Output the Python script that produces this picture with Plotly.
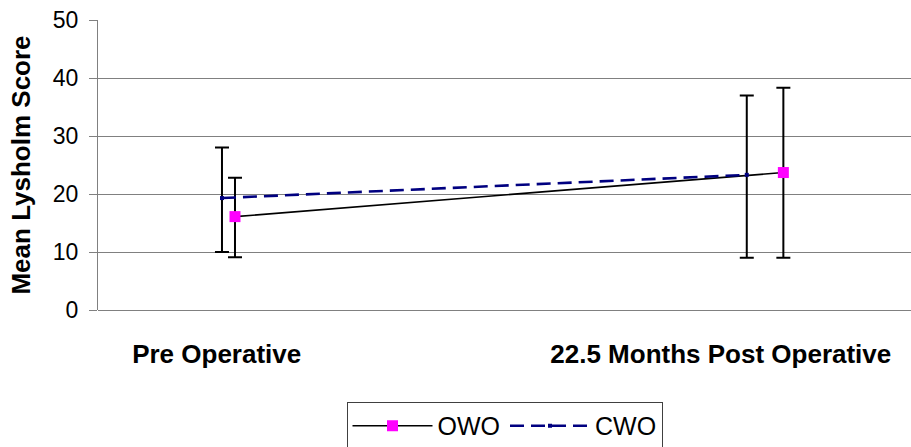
import plotly.graph_objects as go

# Data
categories = ["Pre Operative", "22.5 Months Post Operative"]
category_x = [14.6, 76.6]

owo_x = [16.85, 84.3]
owo_mean = [16.1, 23.7]
owo_err_plus = [6.7, 14.6]
owo_err_minus = [7.0, 14.7]

cwo_x = [15.25, 79.8]
cwo_mean = [19.3, 23.3]
cwo_err_plus = [8.7, 13.7]
cwo_err_minus = [9.3, 14.3]

FONT = "Arial, Liberation Sans, sans-serif"

fig = go.Figure()

fig.add_trace(go.Scatter(
    x=owo_x, y=owo_mean, name="OWO", mode="lines+markers",
    line=dict(color="black", width=1.6),
    marker=dict(symbol="square", size=11, color="#FF00FF"),
    error_y=dict(type="data", symmetric=False, array=owo_err_plus,
                 arrayminus=owo_err_minus, color="black", thickness=2, width=7),
))
fig.add_trace(go.Scatter(
    x=cwo_x, y=cwo_mean, name="CWO", mode="lines+markers",
    line=dict(color="#000080", width=2.6, dash="14px,7px"),
    marker=dict(symbol="square", size=4, color="#000080"),
    error_y=dict(type="data", symmetric=False, array=cwo_err_plus,
                 arrayminus=cwo_err_minus, color="black", thickness=2, width=7),
))

fig.update_layout(
    width=911, height=447,
    margin=dict(l=98, r=0, t=20, b=137, autoexpand=False),
    paper_bgcolor="white", plot_bgcolor="white",
    font=dict(family=FONT, color="black"),
    showlegend=True,
    legend=dict(
        orientation="h", x=0.5, xanchor="center", y=-0.317, yanchor="top",
        bordercolor="#404040", borderwidth=1,
        font=dict(family=FONT, size=25, color="black"),
        itemwidth=80,
    ),
    xaxis=dict(
        range=[0, 100], showgrid=False, zeroline=False, showline=False,
        tickvals=category_x, ticktext=categories, ticks="",
        tickfont=dict(family=FONT, size=26, color="black", weight="bold"),
        ticklabelstandoff=26,
    ),
    yaxis=dict(
        range=[0, 50], dtick=10, showgrid=True, gridcolor="#808080", gridwidth=1,
        zeroline=True, zerolinecolor="#808080", zerolinewidth=1,
        showline=True, linecolor="#808080", linewidth=1,
        ticks="outside", ticklen=8, tickcolor="#808080",
        tickfont=dict(family=FONT, size=23, color="black"),
        ticklabelstandoff=6, ticklabeloverflow="allow",
        title=dict(text="Mean Lysholm Score", standoff=14,
                   font=dict(family=FONT, size=26, color="black", weight="bold")),
    ),
)

# remove the page's default 8px body margin so the figure fills the window
fig.write_html("out.html",
               config={"displayModeBar": False},
               post_script="document.body.style.margin='0';document.body.style.overflow='hidden';")
